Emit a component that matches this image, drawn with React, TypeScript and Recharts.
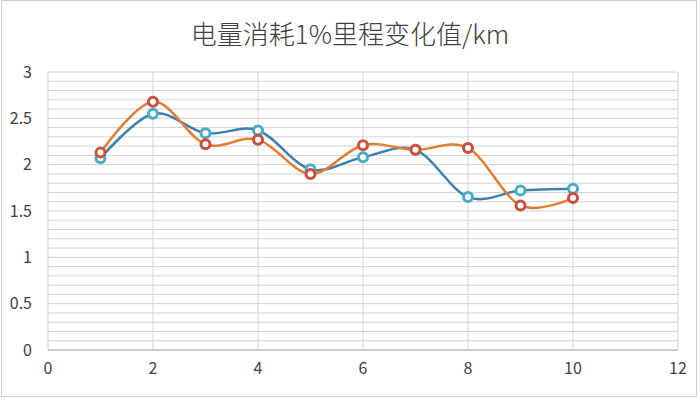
import React from 'react';
import { LineChart, Line, XAxis, YAxis, CartesianGrid } from 'recharts';

const xValues = [1, 2, 3, 4, 5, 6, 7, 8, 9, 10];
const blueSeries = [2.07, 2.55, 2.34, 2.37, 1.95, 2.08, 2.16, 1.65, 1.72, 1.74];
const orangeSeries = [2.13, 2.68, 2.22, 2.27, 1.9, 2.21, 2.16, 2.18, 1.56, 1.64];
const xTicks = [0, 2, 4, 6, 8, 10, 12];
const yTicks = [0, 0.5, 1, 1.5, 2, 2.5, 3];
const yGrid = Array.from({ length: 31 }, (_, i) => i / 10);
const title = '电量消耗1%里程变化值/km';

const data = xValues.map((x, i) => ({ x, a: blueSeries[i], b: orangeSeries[i] }));

// Catmull-Rom style cardinal curve (tension 0), similar to Excel smoothing
function cardinalCurve(context: any) {
  const k = 1 / 6;
  let x0 = NaN, y0 = NaN, x1 = NaN, y1 = NaN, x2 = NaN, y2 = NaN, p = 0;
  const pt = (x: number, y: number) => {
    context.bezierCurveTo(
      x1 + k * (x2 - x0),
      y1 + k * (y2 - y0),
      x2 + k * (x1 - x),
      y2 + k * (y1 - y),
      x2,
      y2
    );
  };
  return {
    areaStart() {},
    areaEnd() {},
    lineStart() {
      x0 = x1 = x2 = y0 = y1 = y2 = NaN;
      p = 0;
    },
    lineEnd() {
      if (p === 2) context.lineTo(x2, y2);
      else if (p === 3) pt(x1, y1);
    },
    point(xv: any, yv: any) {
      const x = +xv;
      const y = +yv;
      if (p === 0) {
        p = 1;
        context.moveTo(x, y);
      } else if (p === 1) {
        p = 2;
        x1 = x;
        y1 = y;
      } else {
        if (p === 2) p = 3;
        pt(x, y);
      }
      x0 = x1; x1 = x2; x2 = x;
      y0 = y1; y1 = y2; y2 = y;
    },
  };
}

const font = '"Noto Sans CJK SC", "Noto Sans", sans-serif';

export default function App() {
  return (
    <div style={{ position: 'absolute', left: 0, top: 0, width: 700, height: 409, background: '#fff' }}>
      <div
        style={{
          position: 'absolute',
          left: 1,
          top: 0,
          width: 696,
          height: 397,
          border: '1px solid #cfcfcf',
          boxSizing: 'border-box',
        }}
      />
      <div
        style={{
          position: 'absolute',
          left: 0,
          top: 15,
          width: 700,
          textAlign: 'center',
          fontFamily: font,
          fontSize: 26,
          fontWeight: 300,
          color: '#404040',
          lineHeight: '36px',
        }}
      >
        {title}
      </div>
      <LineChart
        width={700}
        height={409}
        data={data}
        margin={{ top: 72, right: 22, bottom: 29, left: 0 }}
        style={{ position: 'absolute', left: 0, top: 0 }}
      >
        <CartesianGrid
          stroke="#d3d3d3"
          strokeWidth={1}
          horizontalValues={yGrid}
          verticalValues={xTicks}
        />
        <XAxis
          dataKey="x"
          type="number"
          domain={[0, 12]}
          ticks={xTicks}
          tickLine={false}
          axisLine={{ stroke: '#bfbfbf', strokeWidth: 1.5 }}
          tick={{ fill: '#404040', fontSize: 16, fontFamily: font }}
          tickMargin={7}
          height={30}
          interval={0}
        />
        <YAxis
          type="number"
          domain={[0, 3]}
          ticks={yTicks}
          tickLine={false}
          axisLine={false}
          tick={{ fill: '#404040', fontSize: 16, fontFamily: font }}
          tickMargin={10}
          width={48}
          interval={0}
        />
        <Line
          dataKey="a"
          type={cardinalCurve as any}
          stroke="#3f7fae"
          strokeWidth={2.5}
          dot={{ r: 4.5, stroke: '#4bacc6', strokeWidth: 3, fill: '#fff' }}
          activeDot={false}
          isAnimationActive={false}
        />
        <Line
          dataKey="b"
          type={cardinalCurve as any}
          stroke="#e07d2e"
          strokeWidth={2.5}
          dot={{ r: 4.5, stroke: '#c8503d', strokeWidth: 3, fill: '#fff' }}
          activeDot={false}
          isAnimationActive={false}
        />
      </LineChart>
    </div>
  );
}
